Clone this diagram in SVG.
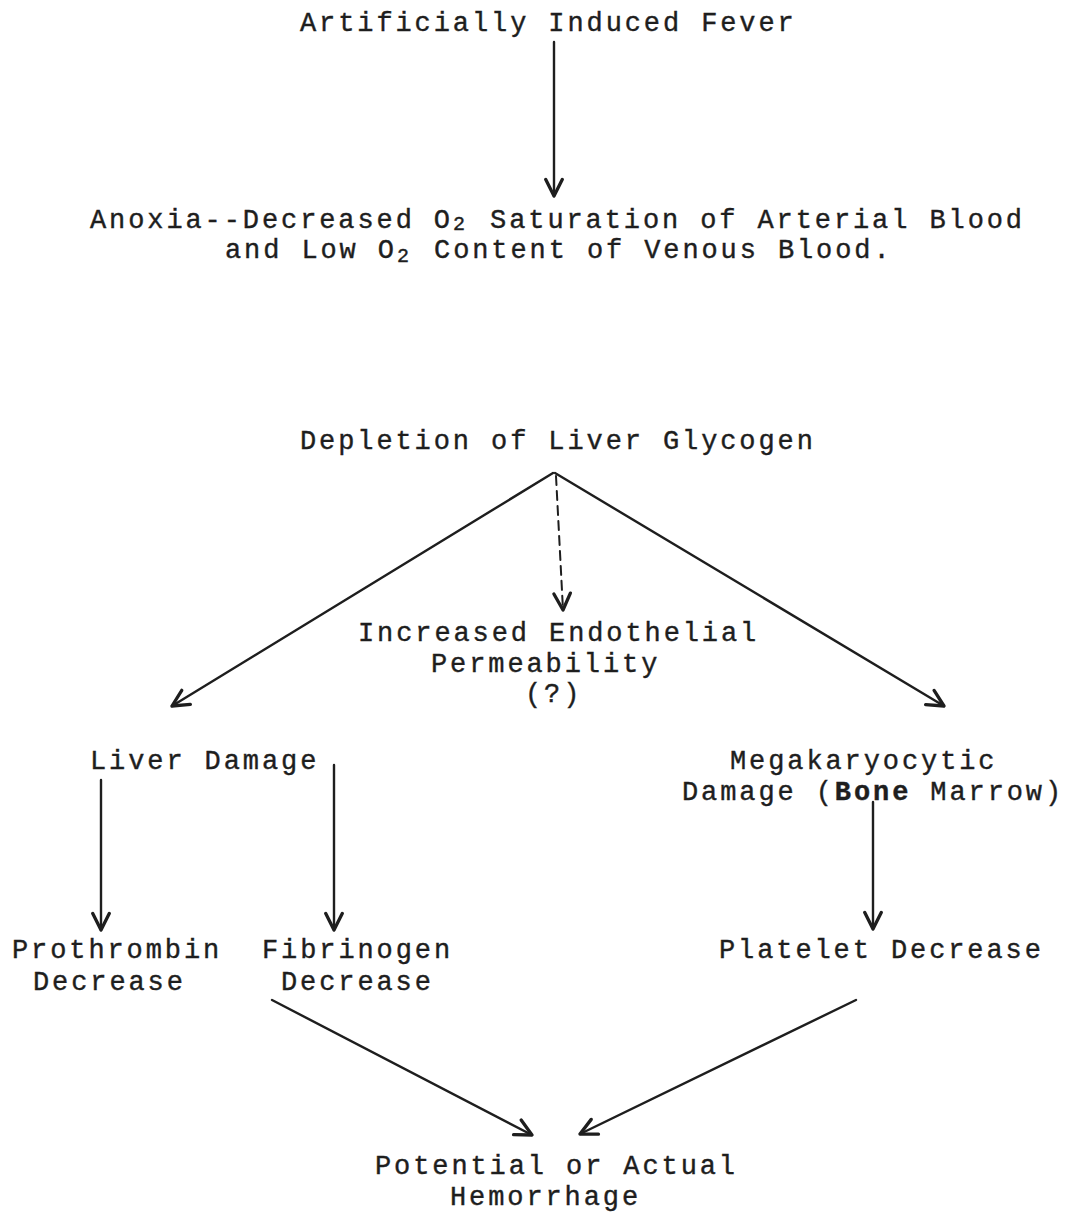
<svg xmlns="http://www.w3.org/2000/svg" width="1067" height="1222" viewBox="0 0 1067 1222">
<style>
text{font-family:"Liberation Mono","DejaVu Sans Mono",monospace;font-size:27px;letter-spacing:2.9px;fill:#1e1e1e;stroke:#1e1e1e;stroke-width:0.4px;}
.s{font-size:20px;letter-spacing:2px;}
.c{stroke:#1e1e1e;stroke-width:2.4;fill:none;stroke-linecap:round;}
.d{stroke-dasharray:9 6;stroke-width:2;}
</style>
<defs>
<marker id="a" viewBox="0 0 20 20" markerUnits="userSpaceOnUse" markerWidth="22" markerHeight="22" refX="18" refY="10" orient="auto">
<path d="M3,2.5 L18,10 L3,17.5" fill="none" stroke="#1e1e1e" stroke-width="3" stroke-linecap="round" stroke-linejoin="round"/>
</marker>
</defs>
<rect width="1067" height="1222" fill="#ffffff"/>
<g id="connectors">
<line class="c" x1="554" y1="42" x2="554" y2="196" marker-end="url(#a)"/>
<line class="c" x1="553" y1="473" x2="172" y2="706" marker-end="url(#a)"/>
<line class="c d" x1="556" y1="476" x2="563" y2="610" marker-end="url(#a)"/>
<line class="c" x1="555" y1="473" x2="944" y2="706" marker-end="url(#a)"/>
<line class="c" x1="101" y1="780" x2="101" y2="930" marker-end="url(#a)"/>
<line class="c" x1="334" y1="765" x2="334" y2="930" marker-end="url(#a)"/>
<line class="c" x1="873" y1="802" x2="873" y2="929" marker-end="url(#a)"/>
<line class="c" x1="272" y1="1000" x2="532" y2="1135" marker-end="url(#a)"/>
<line class="c" x1="856" y1="1000" x2="580" y2="1134" marker-end="url(#a)"/>
</g>
<g id="fever"><text x="300" y="31">Artificially Induced Fever</text></g>
<g id="anoxia">
<text x="90" y="228">Anoxia--Decreased O<tspan class="s" dy="2">2</tspan><tspan dy="-2" dx="4"> Saturation of Arterial Blood</tspan></text>
<text x="225" y="258">and Low O<tspan class="s" dy="4">2</tspan><tspan dy="-4" dx="4"> Content of Venous Blood.</tspan></text>
</g>
<g id="depletion"><text x="300" y="449">Depletion of Liver Glycogen</text></g>
<g id="endothelial">
<text x="358" y="641">Increased Endothelial</text>
<text x="431" y="672">Permeability</text>
<text x="525" y="702">(?)</text>
</g>
<g id="liver"><text x="90" y="769">Liver Damage</text></g>
<g id="mega">
<text x="730" y="769">Megakaryocytic</text>
<text x="682" y="800">Damage (<tspan font-weight="bold">Bone</tspan> Marrow)</text>
</g>
<g id="prothrombin">
<text x="12" y="958">Prothrombin</text>
<text x="33" y="990">Decrease</text>
</g>
<g id="fibrinogen">
<text x="262" y="958">Fibrinogen</text>
<text x="281" y="990">Decrease</text>
</g>
<g id="platelet"><text x="719" y="958">Platelet Decrease</text></g>
<g id="hemorrhage">
<text x="375" y="1174">Potential or Actual</text>
<text x="450" y="1205">Hemorrhage</text>
</g>
</svg>
